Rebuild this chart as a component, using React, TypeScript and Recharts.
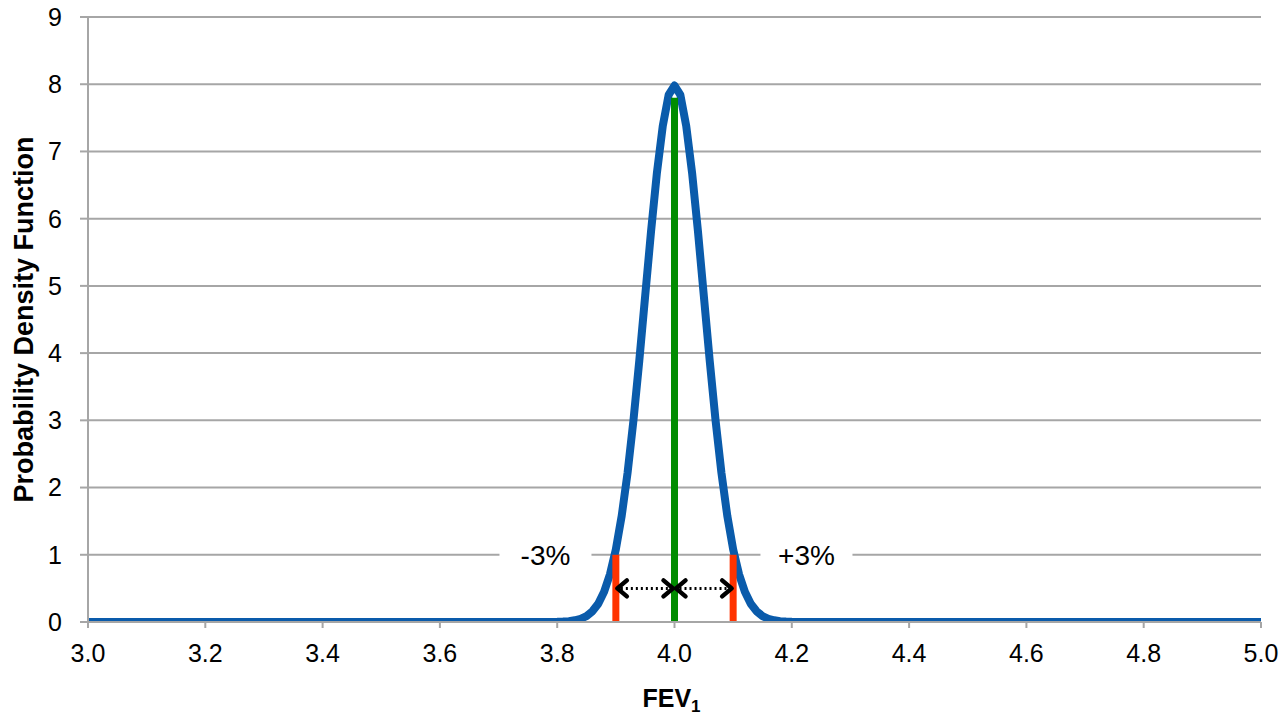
import { ComposedChart, Line, Scatter, XAxis, YAxis, CartesianGrid } from 'recharts';

// FEV1 values (x) and probability density (y)
const curveX = [3.0, 3.5, 3.75, 3.8, 3.81, 3.82, 3.83, 3.84, 3.85, 3.86, 3.87, 3.88, 3.89, 3.9, 3.91, 3.92, 3.93, 3.94, 3.95, 3.96, 3.97, 3.98, 3.99, 4.0,
  4.01, 4.02, 4.03, 4.04, 4.05, 4.06, 4.07, 4.08, 4.09, 4.1, 4.11, 4.12, 4.13, 4.14, 4.15, 4.16, 4.17, 4.18, 4.19, 4.2, 4.25, 4.5, 5.0];
const curveY = [0, 0, 0, 0.003, 0.006, 0.012, 0.025, 0.048, 0.089, 0.159, 0.272, 0.449, 0.711, 1.08, 1.58, 2.22, 3.0, 3.89, 4.85, 5.81, 6.68, 7.38, 7.84, 7.98,
  7.84, 7.38, 6.68, 5.81, 4.85, 3.89, 3.0, 2.22, 1.58, 1.08, 0.711, 0.449, 0.272, 0.159, 0.089, 0.048, 0.025, 0.012, 0.006, 0.003, 0, 0, 0];

const meanX = [4.0, 4.0];
const meanY = [-0.05, 7.8];
const lowX = [3.9, 3.9];
const highX = [4.1, 4.1];
const limitY = [0, 1];
const arrowLeftX = [3.9, 4.0];
const arrowRightX = [4.0, 4.1];
const arrowY = [0.5, 0.5];
const noteX = [3.78, 4.225];
const noteY = [1, 1];
const noteText = ['-3%', '+3%'];

const xTicks = [3.0, 3.2, 3.4, 3.6, 3.8, 4.0, 4.2, 4.4, 4.6, 4.8, 5.0];
const yTicks = [0, 1, 2, 3, 4, 5, 6, 7, 8, 9];

const zip = (xs: number[], ys: number[]) => xs.map((x, i) => ({ x, y: ys[i] }));

const curve = zip(curveX, curveY);
const meanLine = zip(meanX, meanY);
const lowLine = zip(lowX, limitY);
const highLine = zip(highX, limitY);
const arrowLeft = zip(arrowLeftX, arrowY);
const arrowRight = zip(arrowRightX, arrowY);
const notes = noteX.map((x, i) => ({ x, y: noteY[i], text: noteText[i] }));

const FONT = '"Liberation Sans", Arial, sans-serif';

const chevron = (props: any) => {
  const { cx, cy, index } = props;
  const d = index === 0 ? 1 : -1;
  return (
    <path
      key={'c' + index}
      d={`M${cx + d * 11},${cy - 8} L${cx + d * 1.5},${cy} L${cx + d * 11},${cy + 8}`}
      fill="none"
      stroke="#000"
      strokeWidth={4.5}
      strokeLinecap="round"
      strokeLinejoin="round"
    />
  );
};

const noteShape = (props: any) => {
  const { cx, cy, payload } = props;
  return (
    <g>
      <rect x={cx - 46} y={cy - 14} width={92} height={28} fill="#fff" />
      <text x={cx} y={cy + 10} textAnchor="middle" fontSize={28} fontFamily={FONT} fill="#000">
        {payload.text}
      </text>
    </g>
  );
};

const yLabel = (props: any) => {
  const vb = props.viewBox;
  const cy = vb.y + vb.height / 2;
  return (
    <text transform={`translate(33, ${cy}) rotate(-90)`} textAnchor="middle" fontSize={27} fontWeight="bold" fontFamily={FONT} fill="#000">
      Probability Density Function
    </text>
  );
};

const xLabel = (props: any) => {
  const vb = props.viewBox;
  const cx = vb.x + vb.width / 2;
  return (
    <text x={cx - 3} y={707} textAnchor="middle" fontSize={25} fontWeight="bold" fontFamily={FONT} fill="#000">
      FEV<tspan fontSize={17} dy={5}>1</tspan>
    </text>
  );
};

export default function App() {
  return (
    <div style={{ position: 'absolute', left: 0, top: 0, background: '#fff' }}>
      <ComposedChart width={1288} height={715} margin={{ top: 17, right: 27, left: 0, bottom: 0 }}>
        <CartesianGrid vertical={false} stroke="#a6a6a6" strokeWidth={2} />
        <XAxis
          type="number"
          dataKey="x"
          domain={[3, 5]}
          ticks={xTicks}
          tickFormatter={(v) => v.toFixed(1)}
          height={93}
          tickSize={6}
          tickMargin={16}
          stroke="#a6a6a6"
          strokeWidth={2}
          tick={{ fill: '#000', fontSize: 25, fontFamily: FONT }}
          allowDataOverflow
          label={{ content: xLabel }}
        />
        <YAxis
          type="number"
          domain={[0, 9]}
          ticks={yTicks}
          width={88}
          tickSize={8}
          tickMargin={18}
          stroke="#a6a6a6"
          strokeWidth={2}
          tick={{ fill: '#000', fontSize: 25, fontFamily: FONT }}
          allowDataOverflow
          label={{ content: yLabel }}
        />
        <Scatter data={notes} dataKey="y" shape={noteShape} isAnimationActive={false} />
        <Line data={curve} dataKey="y" type="linear" stroke="#0a5bab" strokeWidth={8} strokeLinecap="round" strokeLinejoin="round" dot={false} isAnimationActive={false} />
        <Line data={meanLine} dataKey="y" stroke="#008c00" strokeWidth={7} dot={false} isAnimationActive={false} />
        <Line data={lowLine} dataKey="y" stroke="#ff3300" strokeWidth={7} dot={false} isAnimationActive={false} />
        <Line data={highLine} dataKey="y" stroke="#ff3300" strokeWidth={7} dot={false} isAnimationActive={false} />
        <Line data={arrowLeft} dataKey="y" stroke="#000" strokeWidth={3} strokeDasharray="2 3" dot={chevron} isAnimationActive={false} />
        <Line data={arrowRight} dataKey="y" stroke="#000" strokeWidth={3} strokeDasharray="2 3" dot={chevron} isAnimationActive={false} />
      </ComposedChart>
    </div>
  );
}
